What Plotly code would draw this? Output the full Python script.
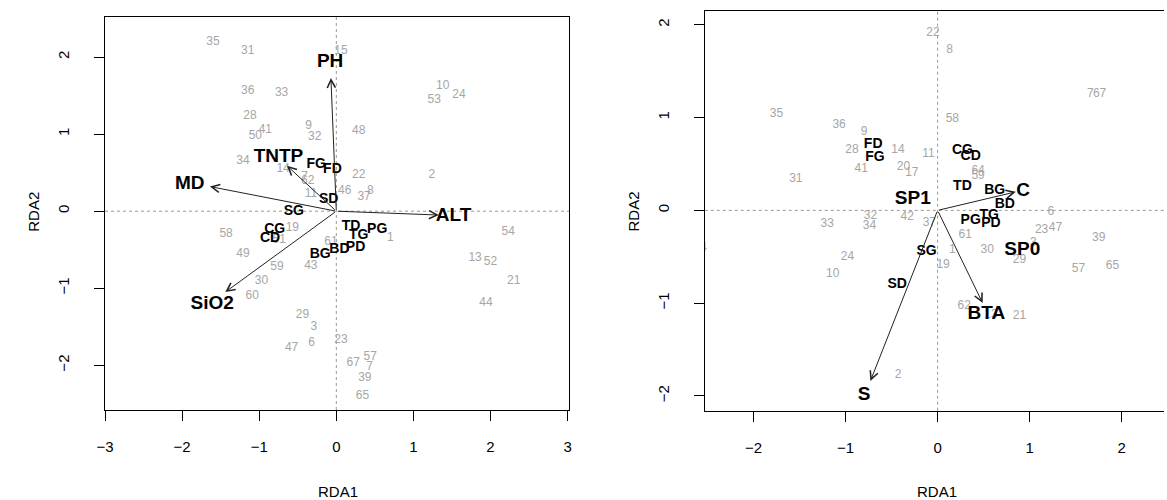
import plotly.graph_objects as go

# ---------------- Left panel data ----------------
left_site_labels = ["35", "31", "15", "36", "33", "28", "41", "50", "9", "32", "48", "34",
                    "14", "7", "62", "11", "46", "22", "37", "8", "58", "19", "51", "49",
                    "61", "59", "43", "30", "60", "29", "3", "47", "6", "23", "67", "57",
                    "7", "39", "65", "10", "24", "53", "2", "1", "54", "13", "52", "21", "44"]
left_site_x = [-1.60, -1.15, 0.06, -1.15, -0.71, -1.12, -0.92, -1.05, -0.36, -0.28, 0.29, -1.21,
               -0.69, -0.41, -0.37, -0.33, 0.11, 0.29, 0.36, 0.44, -1.43, -0.57, -0.74, -1.21,
               -0.07, -0.77, -0.33, -0.97, -1.09, -0.44, -0.29, -0.58, -0.32, 0.06, 0.22, 0.44,
               0.43, 0.37, 0.34, 1.38, 1.59, 1.27, 1.24, 0.70, 2.23, 1.80, 2.00, 2.30, 1.94]
left_site_y = [2.20, 2.08, 2.08, 1.56, 1.53, 1.23, 1.05, 0.97, 1.11, 0.96, 1.04, 0.65,
               0.55, 0.45, 0.39, 0.22, 0.26, 0.47, 0.18, 0.26, -0.29, -0.22, -0.37, -0.55,
               -0.40, -0.73, -0.71, -0.90, -1.10, -1.35, -1.50, -1.78, -1.71, -1.67, -1.97, -1.89,
               -2.02, -2.16, -2.40, 1.62, 1.51, 1.44, 0.47, -0.35, -0.27, -0.61, -0.66, -0.91, -1.19]

left_sp_labels = ["FG", "FD", "SD", "SG", "CG", "CD", "BG", "BD", "TD", "TG", "PG", "PD"]
left_sp_x = [-0.26, -0.05, -0.10, -0.55, -0.80, -0.86, -0.21, 0.04, 0.19, 0.29, 0.53, 0.25]
left_sp_y = [0.60, 0.54, 0.15, 0.00, -0.24, -0.35, -0.56, -0.50, -0.20, -0.32, -0.24, -0.47]

left_env_labels = ["PH", "TNTP", "MD", "SiO2", "ALT"]
left_env_x = [-0.07, -0.64, -1.64, -1.44, 1.33]
left_env_y = [1.73, 0.59, 0.32, -1.05, -0.05]
left_env_lab_x = [-0.08, -0.75, -1.90, -1.61, 1.52]
left_env_lab_y = [1.93, 0.70, 0.35, -1.21, -0.07]

# ---------------- Right panel data ----------------
right_site_labels = ["22", "35", "36", "9", "28", "41", "14", "11", "20", "17", "31", "32",
                     "34", "33", "42", "37", "19", "24", "10", "2", "44", "8", "7", "67",
                     "58", "64", "59", "6", "23", "47", "61", "39", "30", "3", "29", "1",
                     "57", "65", "62", "13", "21"]
right_site_x = [-0.05, -1.75, -1.07, -0.80, -0.93, -0.83, -0.43, -0.10, -0.37, -0.28, -1.54, -0.73,
                -0.74, -1.20, -0.33, -0.09, 0.06, -0.98, -1.14, -0.43, -2.58, 0.13, 1.66, 1.76,
                0.16, 0.44, 0.44, 1.23, 1.13, 1.28, 0.30, 1.75, 0.54, 1.04, 0.89, 0.16,
                1.53, 1.90, 0.29, 0.58, 0.89]
right_site_y = [1.91, 1.04, 0.92, 0.85, 0.65, 0.45, 0.65, 0.61, 0.47, 0.40, 0.34, -0.06,
                -0.17, -0.15, -0.07, -0.14, -0.59, -0.50, -0.69, -1.77, -0.41, 1.73, 1.26, 1.26,
                0.99, 0.42, 0.37, -0.02, -0.21, -0.19, -0.26, -0.30, -0.43, -0.35, -0.53, -0.43,
                -0.63, -0.60, -1.03, -1.13, -1.14]

right_sp_labels = ["FD", "FG", "SG", "SD", "CG", "CD", "TD", "BG", "BD", "TG", "PG", "PD"]
right_sp_x = [-0.70, -0.68, -0.12, -0.44, 0.27, 0.36, 0.27, 0.62, 0.73, 0.56, 0.36, 0.58]
right_sp_y = [0.71, 0.57, -0.44, -0.80, 0.65, 0.58, 0.26, 0.21, 0.06, -0.05, -0.11, -0.14]

right_env_labels = ["S", "BTA", "C"]
right_env_x = [-0.73, 0.49, 0.85]
right_env_y = [-1.84, -1.00, 0.20]
right_env_lab_x = [-0.80, 0.53, 0.93]
right_env_lab_y = [-1.99, -1.12, 0.21]

right_cent_labels = ["SP1", "SP0"]
right_cent_x = [-0.27, 0.92]
right_cent_y = [0.12, -0.43]

# ---------------- styles ----------------
FONT = "Liberation Sans, Arial, Helvetica, sans-serif"
GREY = "#a6a6a6"
W, H = 1167, 500

fig = go.Figure()


def add_text(x, y, labels, size, color, bold, xa, ya):
    txt = [f"<b>{t}</b>" if bold else t for t in labels]
    fig.add_trace(go.Scatter(x=x, y=y, text=txt, mode="text", textposition="middle center",
                             textfont=dict(family=FONT, size=size, color=color),
                             xaxis=xa, yaxis=ya, hoverinfo="skip", showlegend=False,
                             cliponaxis=True))


def add_arrows(xs, ys, xa, ya):
    for x, y in zip(xs, ys):
        fig.add_annotation(x=x, y=y, ax=0, ay=0, xref=xa, yref=ya, axref=xa, ayref=ya,
                           showarrow=True, arrowhead=5, arrowsize=1.6, arrowwidth=1,
                           arrowcolor="#222222", text="", standoff=0, startstandoff=0)


# left panel
add_text(left_site_x, left_site_y, left_site_labels, 12, GREY, False, "x", "y")
add_text(left_sp_x, left_sp_y, left_sp_labels, 14, "black", True, "x", "y")
add_arrows(left_env_x, left_env_y, "x", "y")
add_text(left_env_lab_x, left_env_lab_y, left_env_labels, 19, "black", True, "x", "y")

# right panel
add_text(right_site_x, right_site_y, right_site_labels, 12, GREY, False, "x2", "y2")
add_text(right_sp_x, right_sp_y, right_sp_labels, 14, "black", True, "x2", "y2")
add_arrows(right_env_x, right_env_y, "x2", "y2")
# tiny arrowhead at origin
fig.add_annotation(x=0, y=0.005, ax=0, ay=-0.02, xref="x2", yref="y2", axref="x2", ayref="y2",
                   showarrow=True, arrowhead=5, arrowsize=1.6, arrowwidth=1,
                   arrowcolor="#222222", text="", standoff=0, startstandoff=0)
add_text(right_env_lab_x, right_env_lab_y, right_env_labels, 19, "black", True, "x2", "y2")
add_text(right_cent_x, right_cent_y, right_cent_labels, 19, "black", True, "x2", "y2")

axis_common = dict(showgrid=False, zeroline=False, showline=True, linecolor="black", linewidth=1,
                   ticks="outside", ticklen=10, tickcolor="black", tickwidth=1,
                   tickfont=dict(family=FONT, size=15, color="black"), fixedrange=True)

fig.update_layout(
    width=W, height=H, margin=dict(l=0, r=0, t=0, b=0),
    paper_bgcolor="white", plot_bgcolor="white", showlegend=False,
    xaxis=dict(domain=[97 / W, 566 / W], range=[-3.0, 3.02], tickvals=[-3, -2, -1, 0, 1, 2, 3],
               mirror=True, anchor="y", ticklabelstandoff=13, **axis_common),
    yaxis=dict(domain=[1 - 410 / H, 1 - 17 / H], range=[-2.58, 2.52], tickvals=[-2, -1, 0, 1, 2],
               mirror=True, anchor="x", tickangle=-90, ticklabelstandoff=19, **axis_common),
    xaxis2=dict(domain=[703 / W, 1.0], range=[-2.53, 2.46], tickvals=[-2, -1, 0, 1, 2],
                mirror=True, anchor="y2", ticklabelstandoff=13, **axis_common),
    yaxis2=dict(domain=[1 - 410.7 / H, 1 - 11 / H], range=[-2.16, 2.15], tickvals=[-2, -1, 0, 1, 2],
                mirror=False, anchor="x2", tickangle=-90, ticklabelstandoff=19, **axis_common),
)

# dotted zero lines
for xa, ya in (("x", "y"), ("x2", "y2")):
    fig.add_shape(type="line", xref=f"{xa} domain", yref=ya, x0=0, x1=1, y0=0, y1=0,
                  line=dict(color="#999999", width=1, dash="dot"), layer="below")
    fig.add_shape(type="line", xref=xa, yref=f"{ya} domain", x0=0, x1=0, y0=0, y1=1,
                  line=dict(color="#999999", width=1, dash="dot"), layer="below")

# axis titles
for xc in (332 / W, 938 / W):
    fig.add_annotation(x=xc, y=1 - 491 / H, xref="paper", yref="paper", text="RDA1",
                       xanchor="center", yanchor="middle",
                       showarrow=False, font=dict(family=FONT, size=15, color="black"))
for xc in (25 / W, 631 / W):
    fig.add_annotation(x=xc, y=1 - 212 / H, xref="paper", yref="paper", text="RDA2",
                       xanchor="center", yanchor="middle",
                       textangle=-90, showarrow=False, font=dict(family=FONT, size=15, color="black"))

fig.write_html("out.html")
